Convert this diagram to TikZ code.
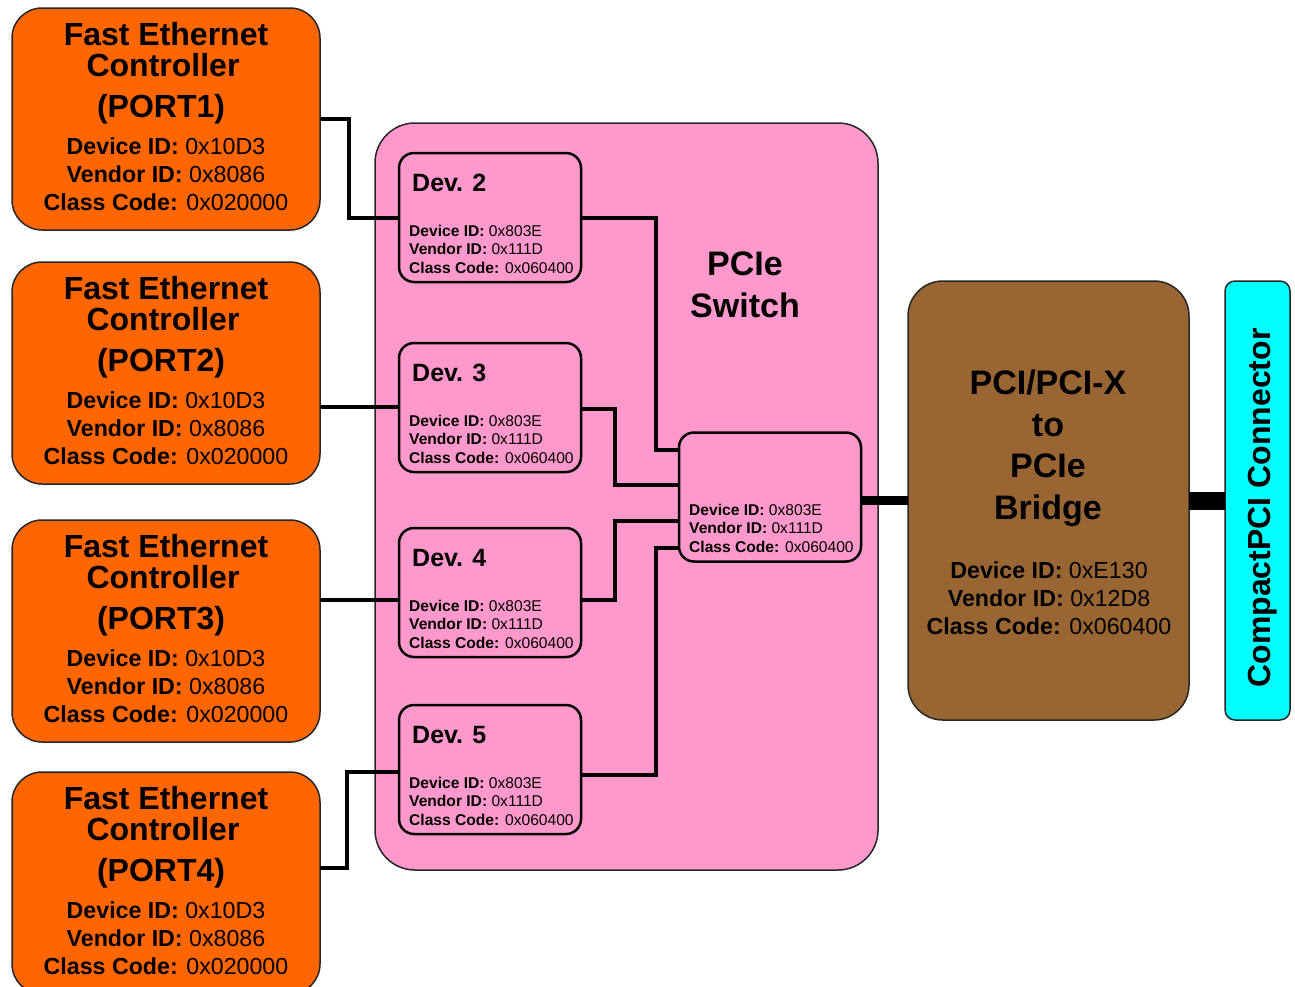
\documentclass[tikz,border=0pt]{standalone}
\usepackage{fontspec}
\setmainfont{Liberation Sans}
\definecolor{ethorange}{HTML}{FF6600}
\definecolor{switchpink}{HTML}{FF99CC}
\definecolor{bridgebrown}{HTML}{996633}
\definecolor{cpcicyan}{HTML}{00FFFF}

% Fast Ethernet controller block: name, top edge, port number
\newcommand\ethunit[3]{%
  \node[ethbox] (#1) at (166, #2+111) {};
  \node[ethtitle] (#1-t1) at (166, #2+37) {Fast Ethernet};
  \node[ethtitle] (#1-t2) at (163, #2+68) {Controller};
  \node[ethtitle] (#1-t3) at (161, #2+109) {(PORT#3)};
  \node[ethdetail] (#1-a) at (166, #2+146) {\textbf{Device ID:} 0x10D3};
  \node[ethdetail] (#1-b) at (166, #2+174) {\textbf{Vendor ID:} 0x8086};
  \node[ethdetail] (#1-c) at (166, #2+202) {\textbf{Class Code:} 0x020000};
}
% Switch port block: name, top edge, device number
\newcommand\devunit[3]{%
  \node[devbox] (#1) at (490, #2+64.5) {};
  \node[devtitle] (#1-t) at (412, #2+38) {Dev. #3};
  \node[devdetail] (#1-a) at (409, #2+83) {\textbf{Device ID:} 0x803E};
  \node[devdetail] (#1-b) at (409, #2+101.5) {\textbf{Vendor ID:} 0x111D};
  \node[devdetail] (#1-c) at (409, #2+120) {\textbf{Class Code:} 0x060400};
}

\begin{document}
\begin{tikzpicture}[x=1pt, y=-1pt,
  bigbox/.style={draw=black!85, line width=1.5pt, inner sep=0pt, outer sep=0pt},
  ethbox/.style={bigbox, fill=ethorange, rounded corners=30pt,
    minimum width=308pt, minimum height=222pt},
  switchbox/.style={bigbox, fill=switchpink, rounded corners=40pt,
    minimum width=503pt, minimum height=747pt},
  bridgebox/.style={bigbox, fill=bridgebrown, rounded corners=35pt,
    minimum width=281pt, minimum height=439pt},
  cpcibox/.style={bigbox, fill=cpcicyan, rounded corners=10pt,
    minimum width=65pt, minimum height=439pt},
  devbox/.style={draw=black, line width=2.5pt, fill=switchpink, rounded corners=15pt,
    inner sep=0pt, outer sep=0pt, minimum width=182pt, minimum height=129pt},
  txt/.style={inner sep=0pt, text=black},
  ethtitle/.style={txt, anchor=base, font=\fontsize{32}{32}\selectfont\bfseries},
  ethdetail/.style={txt, anchor=base, font=\fontsize{23.2}{24}\selectfont},
  devtitle/.style={txt, anchor=base west, font=\fontsize{25}{25}\selectfont\bfseries},
  devdetail/.style={txt, anchor=base west, font=\fontsize{15.6}{16}\selectfont},
  bigtitle/.style={txt, anchor=base, font=\fontsize{34}{34}\selectfont\bfseries},
  wire/.style={draw=black, line width=4pt},
  bus/.style={draw=black, line width=9.5pt},
  widebus/.style={draw=black, line width=18pt}
]
\useasboundingbox (0,0) rectangle (1295,986);

% PCIe switch body
\node[switchbox] (sw) at (626.5, 496.5) {};
\node[bigtitle] (sw-t1) at (745, 275) {PCIe};
\node[bigtitle] (sw-t2) at (745, 317) {Switch};

% Ethernet controllers
\ethunit{e1}{8}{1}
\ethunit{e2}{262}{2}
\ethunit{e3}{520}{3}
\ethunit{e4}{772}{4}

% Upstream port of the switch
\node[devbox] (up) at (770, 497) {};
\node[devdetail] (up-a) at (689, 515) {\textbf{Device ID:} 0x803E};
\node[devdetail] (up-b) at (689, 533.5) {\textbf{Vendor ID:} 0x111D};
\node[devdetail] (up-c) at (689, 552) {\textbf{Class Code:} 0x060400};

% Downstream ports
\devunit{d2}{153}{2}
\devunit{d3}{343}{3}
\devunit{d4}{528}{4}
\devunit{d5}{705}{5}

% Controller links
\draw[wire] (e1.east) -- ++(29,0) |- (d2.west);
\draw[wire] (e2.east |- 0,407) -- (d3.west |- 0,407);
\draw[wire] (e3.east |- 0,600) -- (d4.west |- 0,600);
\draw[wire] (e4.east |- 0,868) -- (347,868) |- (d5.west |- 0,772);

% Internal switch links
\draw[wire] (d2.east |- 0,218) -- (656,218) |- (up.west |- 0,450);
\draw[wire] (d3.east |- 0,409) -- (615,409) |- (up.west |- 0,485);
\draw[wire] (d4.east |- 0,600) -- (615,600) |- (up.west |- 0,521);
\draw[wire] (d5.east |- 0,775) -- (656,775) |- (up.west |- 0,548);

% Bridge
\node[bridgebox] (br) at (1048.5, 500.5) {};
\node[bigtitle] (br-t1) at (1048, 394) {PCI/PCI-X};
\node[bigtitle] (br-t2) at (1048, 436) {to};
\node[bigtitle] (br-t3) at (1048, 477) {PCIe};
\node[bigtitle] (br-t4) at (1048, 519) {Bridge};
\node[ethdetail] (br-a) at (1049, 578) {\textbf{Device ID:} 0xE130};
\node[ethdetail] (br-b) at (1049, 606) {\textbf{Vendor ID:} 0x12D8};
\node[ethdetail] (br-c) at (1049, 634) {\textbf{Class Code:} 0x060400};

% CompactPCI connector
\node[cpcibox] (cpci) at (1257.5, 500.5) {};
\node[txt, rotate=90, anchor=base, font=\fontsize{32}{32}\selectfont\bfseries]
  (cpci-t) at (1270, 508) {CompactPCI Connector};

% Buses
\draw[bus] (up.east |- br.west) -- (br.west);
\draw[widebus] (br.east) -- (cpci.west);
\end{tikzpicture}
\end{document}
